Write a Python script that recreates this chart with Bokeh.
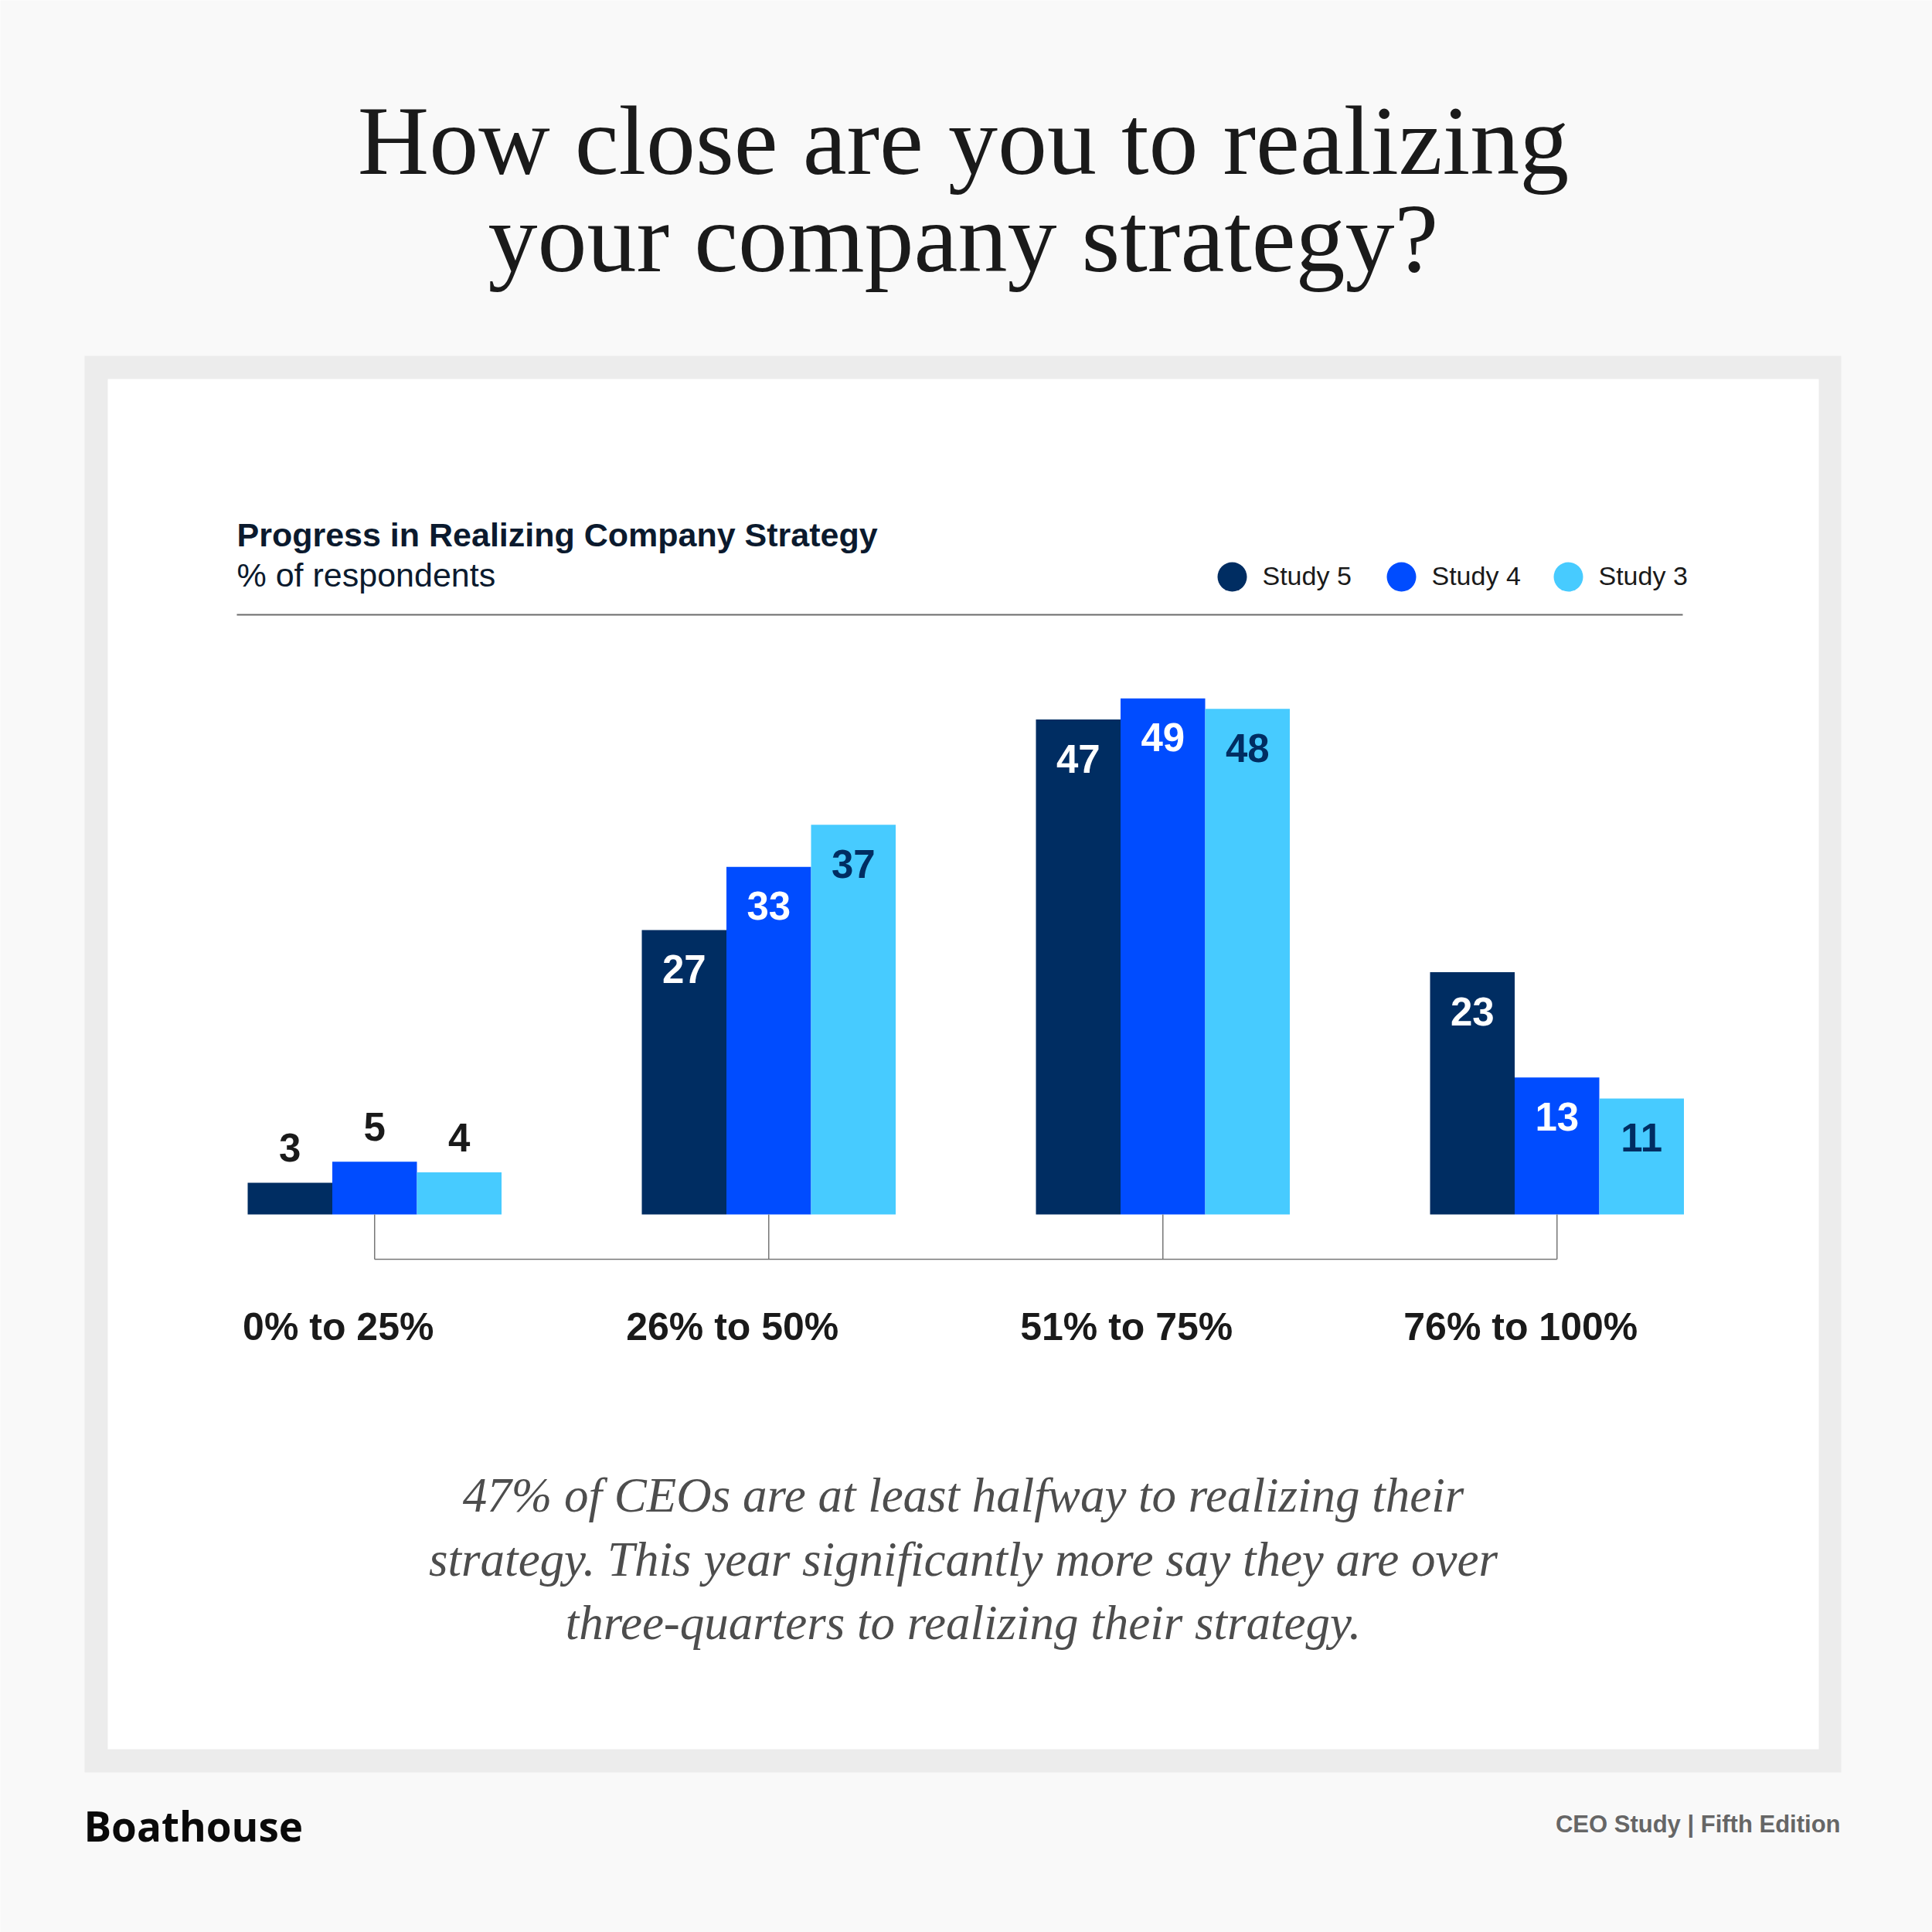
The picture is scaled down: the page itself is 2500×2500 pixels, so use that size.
from bokeh.plotting import figure
from bokeh.models import Range1d, ColumnDataSource
from bokeh.core.properties import value
from bokeh.embed import file_html
from bokeh.resources import INLINE

# ---- data ----
categories = ["0% to 25%", "26% to 50%", "51% to 75%", "76% to 100%"]
series = ["Study 5", "Study 4", "Study 3"]
study5 = [3, 27, 47, 23]
study4 = [5, 33, 49, 13]
study3 = [4, 37, 48, 11]

title_lines = ["How close are you to realizing", "your company strategy?"]
chart_title = "Progress in Realizing Company Strategy"
chart_subtitle = "% of respondents"
note_lines = [
    "47% of CEOs are at least halfway to realizing their",
    "strategy. This year significantly more say they are over",
    "three-quarters to realizing their strategy.",
]
brand = "Boathouse"
edition = "CEO Study | Fifth Edition"

# ---- styles ----
colors = ["#002d62", "#004cff", "#47cbff"]
inside_label_colors = ["#ffffff", "#ffffff", "#002d62"]
outside_label_color = "#1a1a1a"
SANS = value("Liberation Sans")
SERIF = value("Liberation Serif")

W = H = 2500
PX_PER_UNIT = 13.63      # vertical pixels per percentage point
BASELINE_Y = 2500 - 1571  # canvas y of the value axis zero line
GROUP_STEP = 510          # pixels between category centres
FIRST_CENTER = 484.25
BAR_W = 109.5 / GROUP_STEP
BASE_SHIFT = 0.36         # svg text sits this many em below the requested baseline


def ty(screen_y, size):
    """Canvas y for a text baseline given its distance from the top."""
    return H - screen_y + BASE_SHIFT * size


p = figure(width=W, height=H, x_range=Range1d(0, W), y_range=Range1d(0, H),
           output_backend="svg", toolbar_location=None, min_border=0,
           x_axis_type=None, y_axis_type=None)
p.grid.visible = False
p.outline_line_color = None
p.background_fill_color = "#f9f9f9"
p.border_fill_color = "#f9f9f9"

cat_start = -FIRST_CENTER / GROUP_STEP
val_start = -BASELINE_Y / PX_PER_UNIT
p.extra_x_ranges = {"cat": Range1d(cat_start, cat_start + W / GROUP_STEP)}
p.extra_y_ranges = {"val": Range1d(val_start, val_start + H / PX_PER_UNIT)}

# ---- panel ----
p.quad(left=109, right=2382, bottom=H - 2293, top=H - 460,
       fill_color="#ececec", line_color=None)
p.quad(left=139, right=2353, bottom=H - 2263, top=H - 490,
       fill_color="#ffffff", line_color=None)

# ---- headline ----
p.text(x=[1246, 1246], y=[ty(228, 128), ty(354, 128)], text=title_lines,
       text_font=SERIF, text_font_size=value("128px"), text_color="#1a1a1a",
       text_align="center", text_baseline="alphabetic")

# ---- chart header ----
p.text(x=[306], y=[ty(707, 43)], text=[chart_title], text_font=SANS,
       text_font_size=value("43px"), text_font_style="bold",
       text_color="#0b1a2e", text_baseline="alphabetic")
p.text(x=[306], y=[ty(759, 43)], text=[chart_subtitle], text_font=SANS,
       text_font_size=value("43px"), text_color="#0b1a2e",
       text_baseline="alphabetic")
p.segment(x0=[306], x1=[2177], y0=[H - 795], y1=[H - 795],
          line_color="#6b6b6b", line_width=2)

# ---- legend ----
leg_x = [1594, 1813, 2029]
p.scatter(x=leg_x, y=[H - 746] * 3, size=38, marker="circle",
          fill_color=colors, line_color=None)
p.text(x=[x + 39 for x in leg_x], y=[ty(757, 34)] * 3, text=series,
       text_font=SANS, text_font_size=value("34px"), text_color="#1a1a1a",
       text_baseline="alphabetic")

# ---- bars ----
LABEL_SIZE = 51
inside_dy = 69 - BASE_SHIFT * LABEL_SIZE
outside_dy = -27 - BASE_SHIFT * LABEL_SIZE
offsets = [-BAR_W, 0.0, BAR_W]
for vals, off, col, lab_col in zip([study5, study4, study3], offsets, colors,
                                   inside_label_colors):
    xs = [i + off for i in range(len(categories))]
    src = ColumnDataSource(dict(
        x=xs, top=vals, label=[str(v) for v in vals],
        color=[outside_label_color if v < 10 else lab_col for v in vals],
        dy=[outside_dy if v < 10 else inside_dy for v in vals],
    ))
    p.vbar(x="x", top="top", bottom=0, width=BAR_W, source=src,
           fill_color=col, line_color=None,
           x_range_name="cat", y_range_name="val")
    p.text(x="x", y="top", text="label", source=src, y_offset="dy",
           text_font=SANS, text_font_size=value(f"{LABEL_SIZE}px"),
           text_font_style="bold", text_color="color",
           text_align="center", text_baseline="alphabetic",
           x_range_name="cat", y_range_name="val")

# ---- category bracket ----
idx = list(range(len(categories)))
drop = -58 / PX_PER_UNIT
p.segment(x0=idx, x1=idx, y0=[0] * 4, y1=[drop] * 4, line_color="#777777",
          line_width=1.5, x_range_name="cat", y_range_name="val")
p.segment(x0=[idx[0]], x1=[idx[-1]], y0=[drop], y1=[drop], line_color="#777777",
          line_width=1.5, x_range_name="cat", y_range_name="val")
p.text(x=idx, y=[ty(1734, 50)] * 4, text=categories, x_offset=-47,
       text_font=SANS, text_font_size=value("50px"), text_font_style="bold",
       text_color="#1a1a1a", text_align="center", text_baseline="alphabetic",
       x_range_name="cat")

# ---- note ----
p.text(x=[1246] * 3, y=[ty(1957, 63), ty(2040, 63), ty(2122, 63)],
       text=note_lines, text_font=SERIF, text_font_size=value("63px"),
       text_font_style="italic", text_color="#4d4d4d",
       text_align="center", text_baseline="alphabetic")

# ---- footer ----
p.text(x=[108], y=[ty(2381, 53)], text=[brand], text_font=value("Open Sans"),
       text_font_size=value("53px"), text_font_style="bold",
       text_color="#0a0a0a", text_baseline="alphabetic")
p.text(x=[2381], y=[ty(2371, 31)], text=[edition], text_font=SANS,
       text_font_size=value("31px"), text_font_style="bold",
       text_color="#666666", text_align="right", text_baseline="alphabetic")

open("out.html", "w").write(file_html(p, INLINE))
